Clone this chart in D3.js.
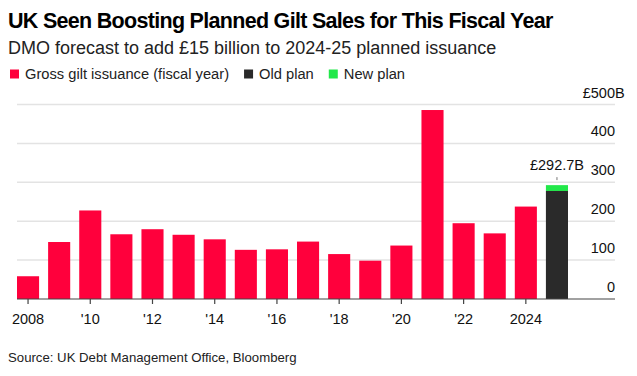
<!DOCTYPE html>
<html>
<head>
<meta charset="utf-8">
<script src="https://cdn.jsdelivr.net/npm/d3@7"></script>
<style>
  body { margin: 0; background: #fff; }
  svg { display: block; font-family: "Liberation Sans", Arial, sans-serif; }
</style>
</head>
<body>
<div class="chart"></div>
<script>
// fiscal years (start year) and gross issuance, £bn
const years = [2008, 2009, 2010, 2011, 2012, 2013, 2014, 2015, 2016, 2017, 2018, 2019, 2020, 2021, 2022, 2023, 2024, 2025];
const issuance = [58.5, 146.5, 227.6, 166.4, 179.4, 165.1, 153.4, 126.4, 127.7, 147.6, 115.5, 98.5, 137.4, 485.8, 194.8, 168.7, 237.6, null];
const oldPlan = [null, null, null, null, null, null, null, null, null, null, null, null, null, null, null, null, null, 277.7];
const newPlan = [null, null, null, null, null, null, null, null, null, null, null, null, null, null, null, null, null, 292.7];
const tickYears = [2008, 2010, 2012, 2014, 2016, 2018, 2020, 2022, 2024];
const tickLabels = ['2008', "'10", "'12", "'14", "'16", "'18", "'20", "'22", '2024'];
const yTicks = [0, 100, 200, 300, 400, 500];

const red = '#ff003c', dark = '#2a2a2a', green = '#22e84a';

const W = 637, H = 376;
const svg = d3.select('.chart').append('svg')
    .attr('width', W)
    .attr('height', H);

/* titles */
svg.append('text')
    .attr('x', 8).attr('y', 28)
    .attr('font-size', 21.5).attr('font-weight', 'bold')
    .attr('letter-spacing', -0.7)
    .attr('fill', '#000')
    .text('UK Seen Boosting Planned Gilt Sales for This Fiscal Year');

svg.append('text')
    .attr('x', 8).attr('y', 54)
    .attr('font-size', 18)
    .attr('fill', '#222')
    .text('DMO forecast to add £15 billion to 2024-25 planned issuance');

/* legend */
const legend = [
    { label: 'Gross gilt issuance (fiscal year)', color: red },
    { label: 'Old plan', color: dark },
    { label: 'New plan', color: green }
];
let lx = 10;
legend.forEach(d => {
    const g = svg.append('g').attr('transform', `translate(${lx},0)`);
    g.append('rect').attr('x', 0).attr('y', 69.5).attr('width', 9).attr('height', 9).attr('fill', d.color);
    const t = g.append('text').attr('x', 15).attr('y', 79)
        .attr('font-size', 14.7).attr('fill', '#222').text(d.label);
    lx += 15 + t.node().getComputedTextLength() + 15;
});

/* scales */
const plotLeft = 17, plotRight = 615;
const x = d3.scaleBand()
    .domain(years)
    .range([17, 568])
    .paddingInner(0.29)
    .paddingOuter(0);

const y = d3.scaleLinear()
    .domain([0, 500])
    .range([299, 104.5]);

/* gridlines + y labels */
const grid = svg.append('g');
yTicks.filter(v => v > 0).forEach(v => {
    grid.append('line')
        .attr('x1', plotLeft).attr('x2', plotRight)
        .attr('y1', y(v)).attr('y2', y(v))
        .attr('stroke', '#e3e3e3').attr('stroke-width', 1.5);
});
yTicks.forEach(v => {
    grid.append('text')
        .attr('x', plotRight).attr('y', y(v) - 7)
        .attr('text-anchor', 'end')
        .attr('font-size', 14.5).attr('fill', '#111')
        .text(v === 500 ? '£' + v : v);
    if (v === 500) {
        grid.append('text')
            .attr('x', plotRight).attr('y', y(v) - 7)
            .attr('font-size', 14.5).attr('fill', '#111')
            .text('B');
    }
});

/* bars */
const bars = svg.append('g');
bars.selectAll('.issue')
    .data(years.map((yr, i) => ({ yr, v: issuance[i] })).filter(d => d.v != null))
    .enter().append('rect')
    .attr('class', 'issue')
    .attr('x', d => x(d.yr))
    .attr('width', x.bandwidth())
    .attr('y', d => y(d.v))
    .attr('height', d => y(0) - y(d.v))
    .attr('fill', red);

const plan = years.map((yr, i) => ({ yr, old: oldPlan[i], nw: newPlan[i] })).filter(d => d.old != null);
bars.selectAll('.newp')
    .data(plan).enter().append('rect')
    .attr('x', d => x(d.yr))
    .attr('width', x.bandwidth())
    .attr('y', d => y(d.nw))
    .attr('height', d => y(d.old) - y(d.nw))
    .attr('fill', green);
bars.selectAll('.oldp')
    .data(plan).enter().append('rect')
    .attr('x', d => x(d.yr))
    .attr('width', x.bandwidth())
    .attr('y', d => y(d.old))
    .attr('height', d => y(0) - y(d.old))
    .attr('fill', dark);

/* annotation */
plan.forEach(d => {
    const cx = x(d.yr) + x.bandwidth() / 2;
    svg.append('line')
        .attr('x1', cx).attr('x2', cx)
        .attr('y1', y(d.nw) - 8).attr('y2', y(d.nw) - 5)
        .attr('stroke', '#777').attr('stroke-width', 1);
    svg.append('text')
        .attr('x', cx).attr('y', y(d.nw) - 15)
        .attr('text-anchor', 'middle')
        .attr('font-size', 14.5).attr('fill', '#111')
        .text('£' + d.nw + 'B');
});

/* x axis */
const xa = svg.append('g');
xa.append('line')
    .attr('x1', plotLeft).attr('x2', plotRight)
    .attr('y1', y(0)).attr('y2', y(0))
    .attr('stroke', '#444').attr('stroke-width', 1.2);
tickYears.forEach((yr, i) => {
    const cx = x(yr) + x.bandwidth() / 2;
    xa.append('line')
        .attr('x1', cx).attr('x2', cx)
        .attr('y1', y(0)).attr('y2', y(0) + 5)
        .attr('stroke', '#444').attr('stroke-width', 1.2);
    xa.append('text')
        .attr('x', cx).attr('y', 324)
        .attr('text-anchor', 'middle')
        .attr('font-size', 14.5).attr('fill', '#111')
        .text(tickLabels[i]);
});

/* source */
svg.append('text')
    .attr('x', 8).attr('y', 362)
    .attr('font-size', 13.2).attr('fill', '#222')
    .text('Source: UK Debt Management Office, Bloomberg');
</script>
</body>
</html>
